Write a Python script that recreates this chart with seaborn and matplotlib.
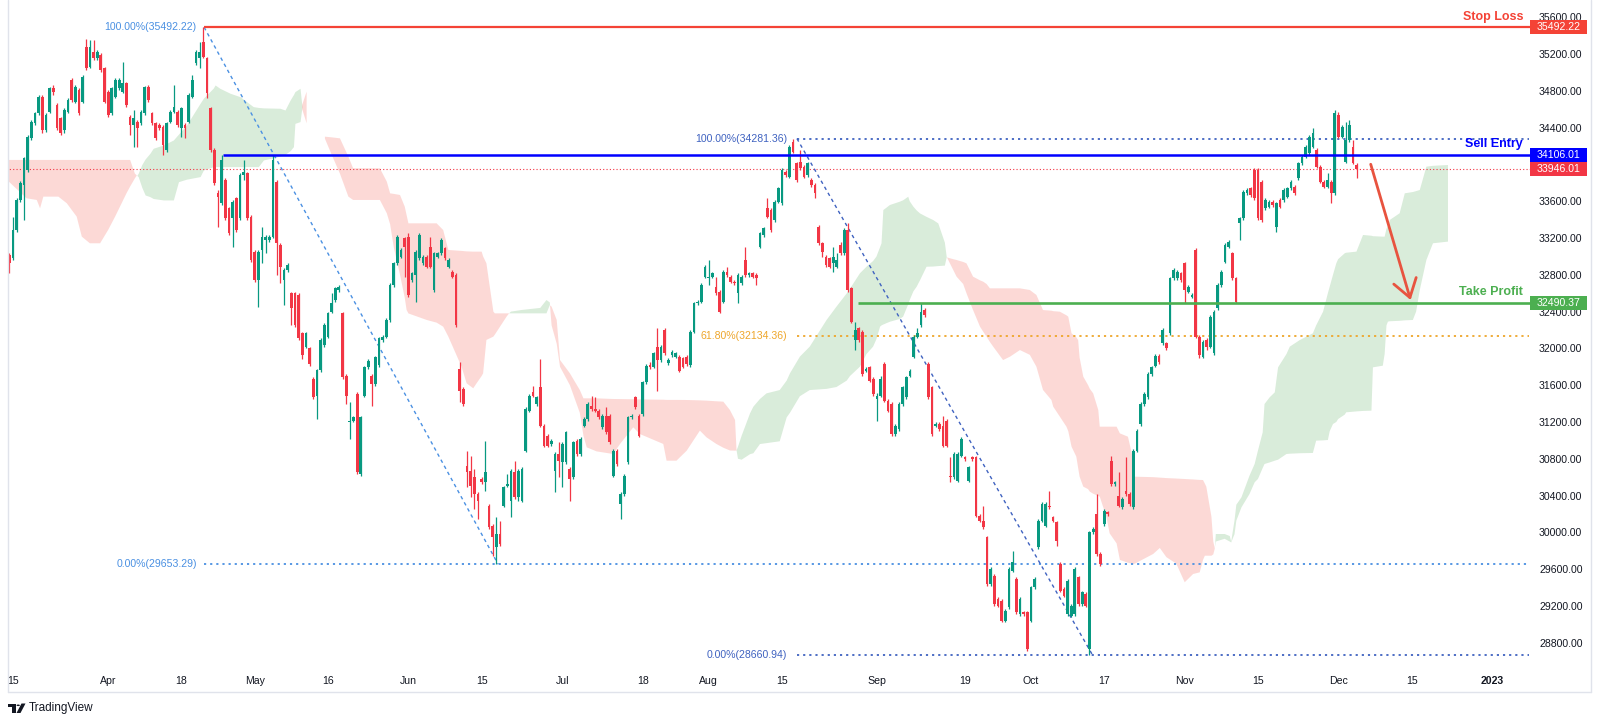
import numpy as np
import matplotlib
matplotlib.use("Agg")
import matplotlib.pyplot as plt
import matplotlib.transforms as mtransforms
from matplotlib.lines import Line2D
from matplotlib.patches import Rectangle, Polygon, Circle
import seaborn as sns

# 12h candles, [open, high, low, close], 14 Mar 2022 (pm) .. 5 Dec 2022
candles_mar = [
    [33016, 33040, 32816, 32925], [32980, 33432, 32960, 33288], [33288, 33632, 33270, 33614],
    [33614, 33820, 33595, 33795], [33777, 34085, 33396, 34067], [33940, 34320, 33920, 34302],
    [34284, 34485, 34266, 34465], [34447, 34575, 34430, 34556], [34556, 34760, 34540, 34737],
    [34737, 34755, 34338, 34375], [34375, 34555, 34357, 34538], [34574, 34846, 34556, 34828],
    [34828, 34864, 34755, 34791], [34646, 34665, 34375, 34393], [34501, 34520, 34320, 34338],
    [34375, 34610, 34338, 34592], [34574, 34720, 34556, 34701], [34918, 34936, 34683, 34701],
    [34683, 34864, 34665, 34846], [34810, 34828, 34538, 34556], [34683, 34973, 34665, 34947],
    [35281, 35360, 35027, 35045], [35063, 35353, 35045, 35281], [35226, 35350, 35136, 35154],
    [35154, 35245, 35136, 35226], [35190, 35210, 35010, 35027], [35045, 35063, 34665, 34683],
]
candles_apr = [
    [34791, 34810, 34520, 34538], [34556, 34846, 34538, 34828], [34737, 34936, 34720, 34918],
    [34828, 34936, 34810, 34918], [34791, 35118, 34773, 34882], [34882, 34900, 34628, 34646],
    [34520, 34540, 34320, 34429], [34429, 34592, 34193, 34501], [34465, 34485, 34193, 34393],
    [34447, 34592, 34430, 34574], [34556, 34855, 34538, 34838], [34846, 34864, 34683, 34701],
    [34556, 34575, 34430, 34447], [34447, 34465, 34266, 34284], [34429, 34450, 34375, 34393],
    [34411, 34430, 34103, 34212], [34157, 34465, 34139, 34447], [34465, 34592, 34447, 34574],
    [34574, 34864, 34556, 34628], [34574, 34592, 34411, 34429], [34393, 34628, 34302, 34610],
    [34429, 34447, 34284, 34393], [34465, 34773, 34447, 34755], [34737, 34973, 34720, 34918],
    [35099, 35245, 35081, 35226], [35154, 35335, 35045, 35226], [35335, 35492, 35154, 35172],
    [35154, 35172, 34719, 34773], [34610, 34628, 34139, 34157], [34157, 34175, 33777, 33795],
    [33686, 33722, 33324, 33650], [33577, 34106, 33559, 34049], [33831, 33850, 33396, 33414],
    [33523, 33541, 33233, 33251], [33414, 33614, 33106, 33595], [33632, 33650, 33270, 33288],
    [33414, 33903, 33396, 33885], [33885, 34049, 33831, 33922], [33903, 33922, 33396, 33414],
    [33432, 33450, 32943, 32961],
]
candles_may = [
    [33052, 33070, 32726, 32744], [32744, 33070, 32454, 33052], [33070, 33324, 32925, 33215],
    [33179, 33233, 33034, 33215], [33179, 33233, 33160, 33215], [33215, 34106, 33197, 34049],
    [33813, 33831, 32798, 33143], [33124, 33143, 32708, 32889], [32744, 32871, 32472, 32853],
    [32853, 32925, 32835, 32907], [32599, 32617, 32255, 32436], [32599, 32617, 32237, 32255],
    [32581, 32599, 32092, 32110], [32164, 32182, 31885, 31930], [32019, 32182, 32001, 32164],
    [32001, 32019, 31812, 31830], [31667, 31690, 31450, 31468], [31486, 31780, 31232, 31760],
    [31760, 32110, 31740, 32092], [32037, 32273, 32019, 32255], [32128, 32400, 32110, 32382],
    [32400, 32599, 32382, 32490], [32527, 32671, 32508, 32653], [32635, 32690, 32617, 32671],
    [32382, 32400, 31667, 31685], [31703, 31720, 31395, 31486], [31196, 31413, 31015, 31214],
    [31214, 31270, 31196, 31250], [31504, 31522, 30634, 30653], [30634, 31269, 30616, 31250],
    [31486, 31812, 31468, 31794], [31794, 31885, 31776, 31867], [31703, 31720, 31377, 31613],
    [31613, 31921, 31595, 31903], [31820, 32128, 31802, 32110], [32092, 32146, 32074, 32128],
    [32128, 32330, 32110, 32309], [32309, 32708, 32291, 32690], [32690, 32943, 32671, 32925],
    [32925, 33233, 32907, 33215], [32998, 33088, 32980, 33070], [33197, 33215, 32780, 33106],
]
candles_jun = [
    [33215, 33257, 32563, 32581], [32744, 32834, 32726, 32816], [32798, 33070, 32508, 33052],
    [32980, 33251, 32961, 33233], [32925, 33016, 32907, 32998], [32998, 33016, 32871, 32889],
    [33106, 33215, 32871, 32889], [32635, 33052, 32617, 33034], [32998, 33052, 32980, 33034],
    [33034, 33197, 33016, 33179], [33088, 33106, 32961, 32980], [32889, 32979, 32871, 32961],
    [32834, 32852, 32762, 32780], [32798, 32816, 32237, 32255], [31776, 31848, 31413, 31540],
    [31558, 31576, 31377, 31395], [30725, 30888, 30489, 30653], [30671, 30834, 30381, 30508],
    [30598, 30689, 30254, 30417], [30417, 30435, 30145, 30344], [30580, 30600, 30526, 30544],
    [30544, 30997, 30453, 30653], [30290, 30308, 30036, 30055], [30073, 30091, 29746, 29946],
    [29837, 30163, 29653, 29982], [29982, 30127, 29855, 29873], [30290, 30508, 30272, 30489],
    [30508, 30634, 30489, 30526], [30344, 30689, 30163, 30671], [30653, 30779, 30363, 30381],
    [30381, 30689, 30344, 30671], [30344, 30707, 30326, 30689], [30888, 31359, 30870, 31341],
    [31323, 31504, 31305, 31486], [31522, 31595, 31468, 31486], [31395, 31486, 31377, 31468],
    [31577, 31885, 31142, 31160], [31160, 31178, 30924, 30942], [31051, 31069, 30924, 30942],
    [30961, 31015, 30943, 30997], [30671, 30870, 30435, 30852], [30852, 30979, 30598, 30779],
]
candles_jul = [
    [30761, 30979, 30489, 30961], [30761, 31105, 30743, 31087], [30689, 30707, 30344, 30580],
    [30598, 30997, 30580, 30979], [30997, 31015, 30834, 30852], [30852, 31033, 30834, 31015],
    [31160, 31250, 31142, 31232], [31232, 31413, 31214, 31395], [31377, 31486, 31323, 31341],
    [31341, 31468, 31305, 31323], [31323, 31341, 31232, 31250], [31142, 31287, 31124, 31269],
    [31269, 31359, 31069, 31087], [31269, 31287, 30961, 30979], [30616, 30906, 30598, 30888],
    [30888, 30906, 30725, 30743], [30308, 30435, 30145, 30417], [30417, 30634, 30399, 30616],
    [30761, 31269, 30743, 31250], [31250, 31287, 31232, 31269], [31468, 31486, 31341, 31359],
    [31269, 31287, 31033, 31051], [31287, 31649, 31269, 31631], [31631, 31830, 31613, 31812],
    [31820, 31848, 31776, 31794], [31802, 31965, 31784, 31947], [32019, 32218, 31540, 31874],
    [31874, 32037, 31856, 32019], [32200, 32218, 31929, 31947], [31838, 31892, 31820, 31874],
    [31929, 31983, 31911, 31965], [31911, 31965, 31893, 31947], [31911, 31929, 31740, 31758],
    [31893, 31911, 31784, 31802], [31911, 31929, 31812, 31830], [31820, 32200, 31802, 32182],
    [32182, 32508, 32164, 32490], [32490, 32526, 32472, 32508], [32508, 32708, 32490, 32690],
    [32780, 32907, 32762, 32889],
]
candles_aug = [
    [32762, 32961, 32690, 32780], [32780, 32834, 32762, 32816], [32671, 32780, 32581, 32599],
    [32617, 32635, 32382, 32400], [32508, 32852, 32490, 32834], [32834, 32889, 32780, 32798],
    [32780, 32798, 32708, 32726], [32726, 32744, 32690, 32708], [32599, 32816, 32490, 32798],
    [32708, 32798, 32690, 32780], [32961, 33106, 32780, 32798], [32798, 32834, 32780, 32816],
    [32816, 32834, 32762, 32780], [32798, 32816, 32690, 32762], [33106, 33269, 33088, 33251],
    [33233, 33324, 33215, 33306], [33523, 33632, 33414, 33432], [33505, 33523, 33270, 33288],
    [33396, 33614, 33378, 33595], [33595, 33759, 33577, 33741], [33577, 33958, 33559, 33940],
    [33922, 33940, 33867, 33885], [33867, 34211, 33849, 34193], [34248, 34281, 34121, 34139],
    [34012, 34030, 33813, 33831], [34030, 34157, 33940, 33958], [33976, 33994, 33849, 33867],
    [33885, 34030, 33867, 34012], [33831, 33849, 33759, 33777], [33777, 33795, 33632, 33686],
    [33324, 33342, 33124, 33143], [33143, 33161, 32998, 33052], [32998, 33016, 32889, 32907],
    [32980, 32998, 32871, 32889], [32925, 33106, 32834, 32998], [32889, 33034, 32871, 32961],
    [33124, 33161, 33016, 33034], [33034, 33306, 33016, 33288], [33288, 33360, 32617, 32635],
    [32653, 32671, 32273, 32291], [32092, 32291, 31983, 32200], [32218, 32236, 32074, 32092],
    [32182, 32200, 31704, 31722], [31758, 31794, 31740, 31776], [31794, 31812, 31631, 31649],
    [31667, 31685, 31486, 31504],
]
candles_sep = [
    [31450, 31520, 31214, 31486], [31486, 31700, 31468, 31667], [31830, 31848, 31413, 31432],
    [31432, 31450, 31305, 31323], [31395, 31413, 31051, 31069], [31069, 31178, 31051, 31160],
    [31124, 31413, 31106, 31395], [31395, 31595, 31377, 31577], [31468, 31703, 31450, 31685],
    [31703, 31776, 31685, 31758], [31911, 32146, 31893, 32128], [32128, 32218, 32110, 32164],
    [32255, 32490, 32237, 32400], [32418, 32436, 32346, 32364], [31830, 31848, 31450, 31468],
    [31577, 31595, 31051, 31069], [31160, 31196, 31142, 31178], [31178, 31196, 31106, 31124],
    [31160, 31269, 30924, 30942], [31214, 31232, 30924, 30942], [30616, 30816, 30544, 30598],
    [30598, 30870, 30580, 30852], [30562, 30870, 30544, 30852], [30834, 31033, 30816, 31015],
    [30816, 30834, 30780, 30798], [30562, 30725, 30544, 30707], [30816, 30834, 30780, 30798],
    [30816, 30834, 30163, 30181], [30181, 30199, 30109, 30127], [30127, 30290, 30036, 30055],
    [29946, 29964, 29420, 29438], [29438, 29620, 29420, 29601], [29529, 29547, 29203, 29221],
    [29275, 29293, 29185, 29203], [29257, 29275, 29022, 29040], [29040, 29167, 29022, 29149],
    [29185, 29620, 29167, 29601], [29583, 29801, 29565, 29674], [29493, 29511, 29112, 29130],
    [29112, 29293, 29094, 29275], [29130, 29148, 29094, 29112], [29130, 29148, 28714, 28732],
]
candles_oct = [
    [29040, 29420, 29022, 29402], [29402, 29511, 29384, 29493], [29837, 30145, 29819, 30127],
    [30127, 30326, 30109, 30308], [30073, 30326, 30055, 30308], [30290, 30453, 30254, 30272],
    [30163, 30181, 30109, 30127], [30109, 30127, 29855, 29910], [29656, 29674, 29348, 29366],
    [29384, 29402, 29294, 29312], [29112, 29493, 29094, 29475], [29094, 29221, 29076, 29203],
    [29112, 29620, 29094, 29601], [29511, 29529, 29203, 29221], [29221, 29366, 29203, 29348],
    [29330, 29348, 29185, 29203], [28730, 30018, 28661, 30000], [30000, 30055, 29982, 30036],
    [30199, 30417, 29746, 29765], [29765, 29783, 29638, 29656], [30091, 30254, 30073, 30236],
    [30218, 30236, 30181, 30199], [30779, 30834, 30508, 30526], [30526, 30562, 30508, 30544],
    [30399, 30653, 30272, 30290], [30272, 30381, 30254, 30363], [30453, 30816, 30399, 30417],
    [30417, 30435, 30290, 30308], [30272, 30906, 30254, 30888], [30888, 31124, 30870, 31106],
    [31178, 31413, 31160, 31395], [31395, 31522, 31377, 31504], [31468, 31740, 31450, 31722],
    [31722, 31812, 31704, 31794], [31812, 31939, 31794, 31921], [31921, 31939, 31830, 31848],
    [32055, 32218, 32037, 32200], [32055, 32073, 31983, 32001], [32164, 32780, 32146, 32762],
    [32762, 32871, 32744, 32853], [32762, 32852, 32744, 32834], [32816, 32834, 32726, 32744],
]
candles_nov = [
    [32925, 32943, 32490, 32635], [32617, 32690, 32599, 32671], [32563, 32600, 32545, 32581],
    [33070, 33088, 32110, 32128], [32128, 32146, 31893, 31929], [31911, 32092, 31893, 32074],
    [32092, 32110, 31983, 32019], [32019, 32364, 32001, 32345], [31947, 32418, 31929, 32400],
    [32436, 32708, 32418, 32690], [32690, 32852, 32672, 32834], [32943, 33142, 32925, 33124],
    [33106, 33179, 33088, 33161], [33034, 33052, 32744, 32762], [32762, 32780, 32490, 32508],
    [33360, 33432, 33179, 33414], [33414, 33722, 33396, 33704], [33686, 33740, 33668, 33722],
    [33741, 33759, 33650, 33668], [33940, 33958, 33614, 33632], [33940, 33958, 33396, 33414],
    [33813, 33831, 33378, 33396], [33523, 33632, 33505, 33614], [33541, 33613, 33523, 33595],
    [33595, 33613, 33541, 33559], [33324, 33595, 33270, 33577], [33614, 33632, 33523, 33541],
    [33614, 33740, 33596, 33722], [33650, 33759, 33632, 33741], [33741, 33831, 33723, 33813],
    [33759, 33777, 33668, 33686], [33849, 34030, 33831, 34012], [34012, 34103, 33994, 34085],
    [34085, 34211, 34067, 34193], [34121, 34320, 34103, 34302], [34193, 34393, 34175, 34338],
    [34157, 34175, 33958, 33976], [33976, 33994, 33795, 33813], [33813, 33831, 33741, 33759],
    [33759, 33903, 33741, 33831], [33813, 33831, 33577, 33686], [33686, 34592, 33668, 34556],
]
candles_dec = [
    [34538, 34574, 34284, 34302], [34302, 34429, 34284, 34411], [34030, 34465, 34012, 34266],
    [34266, 34483, 34248, 34429], [34193, 34266, 34000, 34012], [33994, 34012, 33849, 33946.01],
]

# ichimoku cloud: (bar, span A, span B), shifted 26 bars forward
kumo_spring = [
    (-0.6, 33831, 34049), (2.9, 33700, 34049), (4.7, 33632, 34049), (7.5, 33614, 34049),
    (8.4, 33523, 34049), (9.3, 33650, 34049), (13.4, 33650, 34049), (15.7, 33578, 34049),
    (18.4, 33433, 34049), (19.8, 33215, 34049), (22.0, 33143, 34049), (24.8, 33143, 34049),
    (27.0, 33288, 34049), (28.9, 33433, 34049), (32.0, 33686, 34049), (33.0, 33760, 34049),
    (34.3, 33849, 33900), (35.2, 33904, 33868), (36.2, 34000, 33750), (37.1, 34060, 33668),
    (38.4, 34121, 33650), (39.3, 34176, 33630), (42.1, 34212, 33614), (44.8, 34266, 33614),
    (46.2, 34330, 33813), (48.4, 34429, 33840), (52.1, 34665, 33868), (53.0, 34720, 33940),
    (55.7, 34830, 33976), (56.2, 34864, 33976), (57.5, 34828, 33976), (60.3, 34774, 33976),
    (63.0, 34737, 33976), (66.6, 34629, 33976), (68.0, 34620, 33976), (69.4, 34615, 34049),
    (73.9, 34611, 34090), (75.3, 34592, 34110), (76.7, 34701, 34150), (77.6, 34760, 34194),
    (78.0, 34792, 34447), (79.4, 34828, 34466), (80.0, 34600, 34650), (81.2, 34447, 34792),
]
kumo_june = [
    (86.2, 34280, 34302), (88.0, 34110, 34295), (90.3, 33900, 34284), (92.6, 33650, 34085),
    (93.9, 33614, 33958), (101.2, 33614, 33958), (103.1, 33469, 33813), (104.0, 33350, 33686),
    (105.0, 33100, 33680), (106.7, 32800, 33668), (108.0, 32550, 33541), (108.5, 32418, 33450),
    (109.0, 32380, 33360), (114.0, 32309, 33360), (116.7, 32280, 33360), (118.5, 32236, 33287),
    (119.9, 32128, 33070), (123.5, 31802, 33060), (124.9, 31620, 33055), (126.7, 31566, 33052),
    (127.6, 31620, 33052), (129.0, 31700, 33052), (129.4, 31729, 33000), (130.3, 32092, 32925),
    (132.2, 32128, 32400), (132.6, 32150, 32381), (135.8, 32345, 32381), (136.5, 32381, 32381),
    (137.0, 32400, 32381), (140.0, 32418, 32381), (145.0, 32440, 32381), (146.7, 32526, 32381),
    (147.6, 32500, 32470),
]
kumo_july = [
    (148.1, 32250, 32454), (149.5, 32050, 32309), (150.4, 31800, 31874), (153.1, 31600, 31729),
    (155.8, 31300, 31548), (156.8, 31050, 31457), (157.7, 30924, 31457), (160.4, 30880, 31457),
    (164.9, 30852, 31450), (166.8, 30961, 31449), (170.4, 31142, 31447), (172.2, 31069, 31445),
    (178.6, 30961, 31442), (179.5, 30779, 31440), (182.2, 30779, 31440), (185.0, 30888, 31439),
    (188.6, 31106, 31435), (190.4, 31033, 31432), (193.1, 30961, 31425), (195.0, 30920, 31421),
    (196.8, 30890, 31330), (198.2, 30888, 31222), (198.6, 30890, 30896),
]
kumo_august = [
    (199.0, 30930, 30800), (200.0, 31050, 30790), (202.3, 31294, 30850), (203.2, 31366, 30860),
    (205.0, 31450, 30960), (206.8, 31511, 30970), (210.4, 31547, 30990), (212.3, 31650, 31250),
    (213.2, 31729, 31300), (215.9, 31910, 31480), (218.6, 32019, 31547), (223.2, 32309, 31560),
    (225.9, 32454, 31580), (228.7, 32598, 31650), (229.6, 32650, 31700), (232.3, 32816, 31801),
    (234.1, 32888, 31939), (235.9, 32950, 32019), (236.8, 32997, 32100), (237.8, 33100, 32236),
    (238.2, 33142, 32250), (238.7, 33504, 32260), (240.5, 33559, 32290), (243.2, 33595, 32320),
    (244.1, 33610, 32345), (245.5, 33649, 32480), (245.9, 33600, 32526), (246.9, 33541, 32620),
    (247.8, 33500, 32671), (248.7, 33468, 32740), (250.5, 33430, 32888), (252.3, 33396, 32890),
    (253.7, 33359, 32895), (255.5, 33150, 32900), (256.0, 32995, 32990),
]
kumo_october = [
    (257.8, 32852, 32970), (258.7, 32780, 32961), (260.5, 32700, 32940), (261.4, 32600, 32925),
    (263.2, 32417, 32780), (265.1, 32236, 32740), (266.0, 32180, 32725), (266.9, 32127, 32700),
    (267.8, 32070, 32653), (268.7, 32019, 32653), (271.4, 31873, 32653), (273.3, 31910, 32653),
    (276.0, 31982, 32653), (278.7, 31930, 32635), (280.5, 31801, 32581), (282.3, 31548, 32417),
    (284.6, 31439, 32410), (285.1, 31366, 32405), (286.9, 31258, 32399), (288.7, 31149, 32360),
    (289.2, 31100, 32345), (290.1, 30931, 32164), (291.4, 30823, 32120), (291.9, 30700, 32091),
    (292.3, 30605, 31900), (293.3, 30497, 31693), (294.6, 30470, 31602), (295.1, 30442, 31560),
    (296.0, 30420, 31511), (297.4, 30395, 31330), (297.8, 30388, 31149), (299.6, 30170, 31149),
    (300.5, 29989, 31149), (302.4, 29880, 31149), (303.3, 29700, 31076), (305.5, 29670, 31040),
    (306.9, 29656, 30800), (307.4, 29660, 30605), (312.4, 29765, 30600), (314.2, 29830, 30595),
    (316.0, 29730, 30590), (318.7, 29660, 30585), (321.0, 29457, 30580), (323.3, 29547, 30575),
    (325.1, 29565, 30570), (326.0, 29700, 30569), (326.5, 29746, 30530), (326.9, 29746, 30497),
    (328.3, 29746, 30170), (328.8, 29760, 29900), (329.2, 29820, 29830),
]
kumo_december = [
    (329.5, 29982, 29900), (331.9, 29982, 29930), (333.3, 29960, 29900), (333.7, 29900, 29890),
    (334.6, 30127, 29980), (335.1, 30300, 30127), (336.5, 30381, 30272), (338.7, 30616, 30417),
    (340.1, 30743, 30544), (341.0, 30888, 30580), (342.3, 31087, 30700), (342.8, 31395, 30743),
    (344.2, 31468, 30760), (345.6, 31522, 30779), (346.5, 31794, 30790), (348.8, 31939, 30852),
    (349.7, 32019, 30855), (352.4, 32090, 30860), (356.0, 32164, 30863), (356.9, 32250, 30997),
    (358.8, 32400, 31000), (360.1, 32600, 31004), (360.6, 32671, 31100), (361.5, 32800, 31178),
    (362.4, 32925, 31200), (362.9, 32970, 31232), (364.7, 33034, 31280), (365.1, 33040, 31305),
    (367.9, 33052, 31315), (369.7, 33233, 31320), (372.0, 33225, 31323), (372.4, 33220, 31794),
    (375.1, 33215, 31812), (375.6, 33215, 31939), (376.1, 33300, 32250), (376.5, 33330, 32291),
    (377.0, 33396, 32295), (379.7, 33469, 32300), (381.1, 33686, 32305), (383.3, 33700, 32309),
    (384.2, 33710, 32400), (385.2, 33722, 32635), (387.0, 33976, 32961), (388.8, 33985, 33143),
    (392.9, 33994, 33161),
]

# date axis (bar index of the first bar of each labelled day)
date_bars = [1, 27, 47, 67, 87, 109, 129, 151, 173, 191, 211, 237, 261, 279, 299, 321, 341, 363, 383, 405]
date_labels = ["15", "Apr", "18", "May", "16", "Jun", "15", "Jul", "18", "Aug",
               "15", "Sep", "19", "Oct", "17", "Nov", "15", "Dec", "15", "2023"]
# 34000 sits under the price tags, so it is not listed
price_ticks = [28800, 29200, 29600, 30000, 30400, 30800, 31200, 31600, 32000,
               32400, 32800, 33200, 33600, 34400, 34800, 35200, 35600]

# trade levels
stop_loss = 35492.22
sell_entry = 34106.01
take_profit = 32490.37
last_price = 33946.01
fib1_high, fib1_low = 35492.22, 29653.29
fib2_high, fib2_mid, fib2_low = 34281.36, 32134.36, 28660.94

UP, DOWN = "#089981", "#f23645"
FIB1, FIB2, FIB_ORANGE = "#4a90e2", "#3f62c0", "#eea62b"
TXT = "#131722"

sns.set_theme(style="white")
plt.rcParams["font.family"] = ["Liberation Sans", "DejaVu Sans"]

W, H = 1600, 724
fig = plt.figure(figsize=(W / 100, H / 100), dpi=100, facecolor="white")
ax = fig.add_axes([8 / W, 1 - 668 / H, 1522 / W, 668 / H])
ax.set_facecolor("white")
ax.set_xlim(-0.355, 415.3)
ax.set_ylim(28525, 35788)
for s in ax.spines.values():
    s.set_visible(False)


def draw_kumo(points):
    arr = np.array(points, dtype=float)
    xs, a, b = arr[:, 0], arr[:, 1], arr[:, 2]
    ax.fill_between(xs, a, b, where=a >= b, interpolate=True, color="#43a047", alpha=0.2, lw=0, zorder=1)
    ax.fill_between(xs, a, b, where=a < b, interpolate=True, color="#f44336", alpha=0.2, lw=0, zorder=1)


draw_kumo(kumo_spring)
draw_kumo(kumo_june + kumo_july + kumo_august + kumo_october + kumo_december)

# candles
candles = np.array(candles_mar + candles_apr + candles_may + candles_jun + candles_jul
                   + candles_aug + candles_sep + candles_oct + candles_nov + candles_dec, dtype=float)
o, h, l, c = candles.T
xb = np.arange(len(candles))
col = np.where(c >= o, UP, DOWN)
ax.vlines(xb, l, h, colors=col, lw=0.9, zorder=3)
ax.bar(xb, np.maximum(np.abs(c - o), 14), bottom=np.minimum(o, c), width=0.74,
       color=col, linewidth=0, zorder=3)

# current price line
ax.hlines(last_price, -1, 416, colors=DOWN, linestyles=(0, (1, 2)), lw=0.8, zorder=2)

# fib 1 (Apr high -> Jun low)
f1_start, f1_end = 53.2, 133.5
ax.plot([f1_start, f1_end], [fib1_high, fib1_low], color=FIB1, lw=1, ls=(0, (2.5, 2.5)), zorder=2)
ax.hlines(fib1_low, f1_start, 415, colors=FIB1, linestyles=(0, (1.2, 2.2)), lw=1.3, zorder=2)
ax.text(f1_start - 2, fib1_high, "100.00%(35492.22)", ha="right", va="center", color=FIB1, fontsize=7.6)
ax.text(f1_start - 2, fib1_low, "0.00%(29653.29)", ha="right", va="center", color=FIB1, fontsize=7.6)

# fib 2 (Aug high -> Oct low)
f2_start, f2_end = 215.1, 295.9
ax.plot([f2_start, f2_end], [fib2_high, fib2_low], color=FIB2, lw=1, ls=(0, (2.5, 2.5)), zorder=2)
ax.hlines([fib2_high, fib2_low], f2_start, 415, colors=FIB2, linestyles=(0, (1.2, 2.2)), lw=1.3, zorder=2)
ax.hlines(fib2_mid, f2_start, 415, colors=FIB_ORANGE, linestyles=(0, (1.2, 2.2)), lw=1.3, zorder=2)
ax.text(f2_start - 2.7, fib2_high, "100.00%(34281.36)", ha="right", va="center", color=FIB2, fontsize=7.6)
ax.text(f2_start - 2.7, fib2_mid, "61.80%(32134.36)", ha="right", va="center", color=FIB_ORANGE, fontsize=7.6)
ax.text(f2_start - 2.7, fib2_low, "0.00%(28660.94)", ha="right", va="center", color=FIB2, fontsize=7.6)

# trade levels
ax.hlines(stop_loss, 53.2, 416, colors="#f44336", lw=1.6, zorder=5)
ax.hlines(sell_entry, 58.3, 416, colors="#0000ff", lw=1.8, zorder=5)
ax.hlines(take_profit, 231.7, 416, colors="#4caf50", lw=1.9, zorder=5)
ax.text(413.4, 35606, "Stop Loss", ha="right", va="center", color="#f44336", fontsize=9, fontweight="bold")
ax.text(413.4, 34222, "Sell Entry", ha="right", va="center", color="#0000ff", fontsize=9, fontweight="bold")
ax.text(413.4, 32613, "Take Profit", ha="right", va="center", color="#4caf50", fontsize=9, fontweight="bold")

ax.annotate("", xy=(382.7, 32526), xytext=(371.8, 34002),
            arrowprops=dict(arrowstyle="->,head_length=0.9,head_width=0.6", color="#e8533f",
                            lw=2, shrinkA=0, shrinkB=0, mutation_scale=14), zorder=6)

# axes ticks
ax.yaxis.tick_right()
ax.set_yticks(price_ticks, [f"{v:.2f}" for v in price_ticks])
ax.tick_params(axis="y", length=0, pad=6.5, labelsize=7.6, labelcolor=TXT)
ax.set_xticks(date_bars, date_labels)
ax.tick_params(axis="x", length=0, pad=5.5, labelsize=7.6, labelcolor=TXT)
ax.get_xticklabels()[-1].set_fontweight("bold")

# price tags on the right axis
trans = mtransforms.blended_transform_factory(fig.transFigure, ax.transData)
for val, tag_col in [(stop_loss, "#f44336"), (sell_entry, "#0000ff"),
                     (last_price, DOWN), (take_profit, "#4caf50")]:
    ax.add_patch(Rectangle((1530 / W, val - 76), 57 / W, 152, transform=trans,
                           facecolor=tag_col, edgecolor="none", clip_on=False, zorder=8))
    ax.text(1558.5 / W, val, f"{val:.2f}", transform=trans, ha="center", va="center",
            color="white", fontsize=7.6, zorder=9, clip_on=False)

# frame around pane + axes
frame = "#e0e3eb"
fig.add_artist(Line2D([8 / W, 8 / W], [1, 1 - 692 / H], color=frame, lw=1))
fig.add_artist(Line2D([1591 / W, 1591 / W], [1, 1 - 692 / H], color=frame, lw=1))
fig.add_artist(Line2D([8 / W, 1591 / W], [1 - 692 / H, 1 - 692 / H], color=frame, lw=1))


# TradingView watermark
def fp(x, y):
    return (x / W, 1 - y / H)


fig.add_artist(Polygon([fp(8, 703.5), fp(15.5, 703.5), fp(15.5, 713), fp(12, 713), fp(12, 707), fp(8, 707)],
                       closed=True, transform=fig.transFigure, facecolor=TXT, edgecolor="none"))
fig.add_artist(Circle(fp(18.2, 705.3), 1.7 / W, transform=fig.transFigure, facecolor=TXT, edgecolor="none"))
fig.add_artist(Polygon([fp(16.5, 713), fp(20.5, 713), fp(25.5, 703.5), fp(21.5, 703.5)],
                       closed=True, transform=fig.transFigure, facecolor=TXT, edgecolor="none"))
fig.text(29 / W, 1 - 708.5 / H, "TradingView", fontsize=8.5, color=TXT, va="center", ha="left")

fig.savefig("out.png", dpi=100, facecolor="white")
